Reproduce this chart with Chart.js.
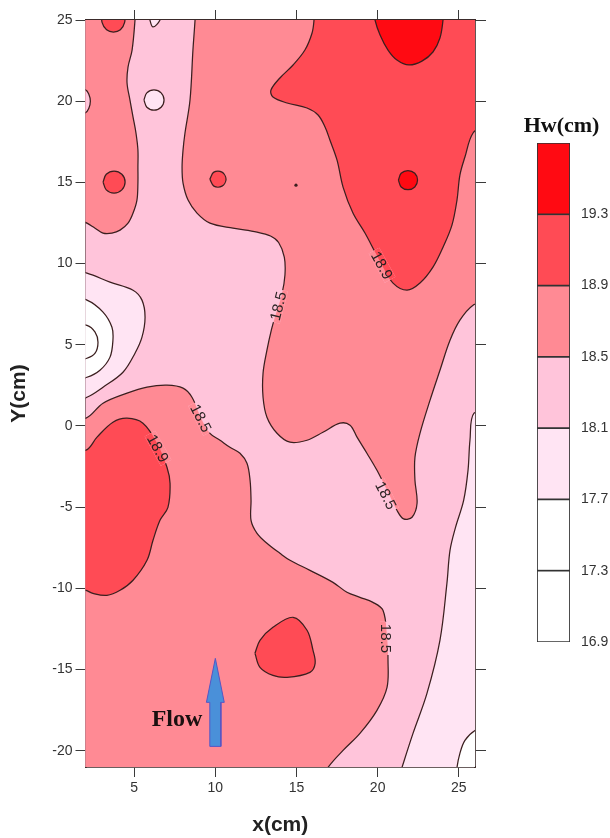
<!DOCTYPE html>
<html><head><meta charset="utf-8">
<script src="https://cdn.jsdelivr.net/npm/chart.js@4.4.1/dist/chart.umd.min.js"></script>
<style>
html,body{margin:0;padding:0;background:#fff;}
#wrap{position:relative;width:610px;height:838px;overflow:hidden;}
#main{position:absolute;left:0;top:0;}
#cb{position:absolute;left:510px;top:90px;}
</style></head>
<body><div id="wrap">
<canvas id="main" width="500" height="838"></canvas>
<canvas id="cb" width="100" height="570"></canvas>
</div>
<script>
// ---------------- DATA ----------------
const xTicks = [5, 10, 15, 20, 25];
const yTicks = [-20, -15, -10, -5, 0, 5, 10, 15, 20, 25];
const levels = [16.9, 17.3, 17.7, 18.1, 18.5, 18.9, 19.3, 19.7];
const levelLabels = [16.9, 17.3, 17.7, 18.1, 18.5, 18.9, 19.3];
const bandColors = ['#ffffff', '#ffffff', '#ffe4f3', '#ffc4da', '#ff8a94', '#ff4b55', '#ff0a12'];

// contour regions, [x(cm), y(cm)] boundary points
const base = [[1,26],[27,26],[27,-22],[1,-22],[1,26]];
const medTopLeft = [[1,26],[5.07,25.8],[5.05,25],[4.87,23.15],[4.62,22.1],[4.56,21.12],[4.74,20.07],[4.93,19.02],[5.11,18.04],[5.23,16.99],[5.23,15.94],[5.23,14.96],[5.17,13.91],[4.93,13.11],[4.62,12.49],[4.13,12.06],[3.63,11.88],[3.08,11.88],[2.59,12.18],[2.09,12.49],[1.2,13.0],[1,26]];
const medRight = [[8.78,25.8],[8.75,25],[8.62,23.15],[8.44,20.07],[8.13,18.04],[8.01,16.99],[7.95,15.94],[8.01,14.96],[8.32,13.91],[8.87,13.11],[9.67,12.49],[11.09,12.18],[12.57,11.94],[13.4,11.7],[13.9,11.3],[14.25,10.4],[14.29,9.3],[14.1,8.1],[13.7,6.8],[13.45,5.9],[13.18,4.67],[12.94,3.25],[12.94,1.77],[13.18,0.54],[13.8,-0.45],[14.6,-1.0],[15.65,-0.88],[16.63,-0.39],[17.68,0.17],[18.3,0.05],[18.73,-0.69],[19.34,-1.68],[19.96,-2.73],[20.58,-3.96],[21.19,-5.19],[21.6,-5.72],[22.12,-5.62],[22.43,-4.76],[22.3,-3.34],[22.3,-1.93],[22.61,-0.45],[23.23,1.59],[23.84,3.43],[24.46,5.28],[25.07,6.52],[25.88,7.44],[27,7.9],[27,26],[8.78,25.8]];
const medLowLeft = [[1,0.6],[2.03,0.48],[3.08,1.4],[4.56,2.02],[5.79,2.39],[7.02,2.51],[8.01,2.33],[8.56,1.77],[9.12,0.48],[9.67,-0.45],[10.29,-0.88],[10.9,-1.31],[11.52,-1.68],[11.95,-2.3],[12.14,-3.34],[12.2,-4.58],[12.2,-5.81],[12.57,-6.61],[13.18,-7.22],[13.98,-7.84],[14.6,-8.27],[15.83,-8.89],[17.25,-9.63],[18.11,-10.24],[18.91,-10.55],[19.71,-10.86],[20.33,-11.35],[20.58,-13.01],[20.64,-14.43],[20.58,-16.1],[19.96,-17.51],[18.91,-18.93],[17.87,-19.98],[16.94,-21.03],[16.4,-22],[1,-22],[1,0.6]];
const darkTopRight = [[16.1,25.8],[16.08,25],[15.96,24.2],[15.52,23.15],[14.79,22.23],[13.98,21.43],[13.43,20.69],[13.55,20.26],[14.42,19.89],[15.65,19.58],[16.33,19.15],[16.76,18.41],[17.06,17.61],[17.5,16.37],[17.87,14.71],[18.48,13.11],[19.22,11.88],[19.84,10.71],[20.27,9.9],[20.95,8.8],[21.81,8.36],[22.61,8.8],[23.41,9.78],[24.03,11.01],[24.58,12.37],[24.89,13.91],[25.07,15.45],[25.38,16.56],[25.88,18.04],[27,19],[27,26],[16.1,25.8]];
const darkLowLeft = [[1,-1.2],[2.03,-1.49],[2.71,-0.69],[3.69,0.23],[4.56,0.48],[5.54,0.17],[6.41,-1.06],[7.02,-2.54],[7.21,-3.53],[7.08,-5.01],[6.59,-5.81],[6.16,-7.04],[5.79,-8.27],[4.93,-9.5],[4.13,-10.12],[3.32,-10.43],[2.46,-10.31],[2.03,-10.12],[1,-9.9],[1,-1.2]];
const darkSpotLow = [[12.44,-14.0],[12.75,-13.2],[13.55,-12.4],[14.79,-11.78],[15.65,-12.58],[16.02,-13.82],[16.15,-14.62],[15.83,-15.17],[14.42,-15.48],[13.55,-15.36],[12.75,-14.86],[12.44,-14.0]];
const darkSpot4 = [[3.08,15.02],[3.28,15.5],[3.76,15.7],[4.24,15.5],[4.44,15.02],[4.24,14.54],[3.76,14.34],[3.28,14.54],[3.08,15.02]];
const darkTopSpot4 = [[3.0,25.6],[3.02,24.85],[3.3,24.4],[3.72,24.26],[4.15,24.4],[4.41,24.85],[4.43,25.6]];
const darkSpot10 = [[9.66,15.2],[9.91,15.63],[10.41,15.63],[10.66,15.2],[10.41,14.77],[9.91,14.77],[9.66,15.2]];
const brightTop = [[19.8,25.6],[19.84,25],[20.15,24.08],[20.64,23.15],[21.19,22.54],[21.93,22.23],[22.73,22.47],[23.41,23.03],[23.84,23.89],[24.03,25],[24.05,25.6]];
const brightSpot22 = [[21.28,15.14],[21.45,15.56],[21.87,15.73],[22.29,15.56],[22.46,15.14],[22.29,14.72],[21.87,14.55],[21.45,14.72],[21.28,15.14]];
const lightRight = [[27,0.6],[25.94,0.79],[25.69,-0.88],[25.57,-2.73],[25.3,-4.58],[24.8,-6.24],[24.46,-7.66],[24.27,-9.69],[23.84,-13.2],[23.04,-16.47],[22.18,-18.93],[21.5,-21.03],[21.2,-22],[27,-22],[27,0.6]];
const whiteCorner = [[27,-18.4],[26.0,-18.75],[25.38,-19.36],[25.07,-20.16],[24.89,-21.03],[24.8,-22],[27,-22],[27,-18.4]];
const ringOuter = [[1,9.6],[2.09,9.41],[3.51,8.86],[4.93,8.36],[5.48,7.75],[5.67,6.7],[5.48,5.47],[5.05,4.48],[4.31,3.31],[3.08,2.39],[2.09,1.77],[1,1.5],[1,9.6]];
const ringMid = [[1,7.9],[2.09,7.75],[3.08,7.01],[3.63,6.08],[3.69,5.28],[3.51,4.24],[2.89,3.43],[2.09,3.0],[1,2.8],[1,7.9]];
const ringInner = [[1,6.3],[2.09,6.2],[2.59,5.78],[2.77,5.16],[2.59,4.48],[2.09,4.17],[1,4.0],[1,6.3]];
const whiteSpot6 = [[5.6,20.07],[5.78,20.51],[6.22,20.69],[6.66,20.51],[6.84,20.07],[6.66,19.63],[6.22,19.45],[5.78,19.63],[5.6,20.07]];
const topNotch = [[5.9,25.6],[5.97,25],[6.16,24.57],[6.59,25],[6.65,25.6]];
const leftBump = [[1.5,20.75],[2.0,20.7],[2.2,20.45],[2.3,20.0],[2.2,19.55],[2.0,19.3],[1.5,19.25],[1.5,20.75]];
const tinyDot = [[14.97,14.83]];

// regions in drawing order with their band index
const regions = [
  [base, 3], [medTopLeft, 4], [medRight, 4], [medLowLeft, 4],
  [darkTopRight, 5], [darkLowLeft, 5], [darkSpotLow, 5], [darkSpot4, 5], [darkTopSpot4, 5], [darkSpot10, 5],
  [brightTop, 6], [brightSpot22, 6],
  [lightRight, 2], [whiteCorner, 1], [ringOuter, 2], [ringMid, 1], [ringInner, 0],
  [whiteSpot6, 2], [topNotch, 2], [leftBump, 3]
];

// contour labels
const labelText  = ['18.5', '18.9', '18.5', '18.9', '18.5', '18.5'];
const labelX     = [13.86, 20.27, 9.12, 6.47, 20.52, 20.52];
const labelY     = [7.38, 9.9, 0.48, -1.37, -4.27, -13.08];
const labelAngle = [-76, 61, 63, 61, 63, 90];

// flow arrow (x, y in cm)
const arrowPts = [[10,-14.31],[10.55,-17.02],[10.34,-17.02],[10.34,-19.73],[9.66,-19.73],[9.66,-17.02],[9.45,-17.02],[10,-14.31]];
const flowText = 'Flow';
const flowPos = [9.2, -18.5];
const cbTitle = 'Hw(cm)';

// ---------------- CHART ----------------
const toXY = pts => pts.map(([x, y]) => ({x, y}));
const lineCol = '#3b1f1f';
const datasets = [];
regions.forEach(([pts, band], i) => {
  const isBase = i === 0;
  datasets.push({
    data: toXY(pts), showLine: true, fill: 'shape',
    backgroundColor: bandColors[band],
    borderColor: lineCol, borderWidth: isBase ? 0 : 1.25,
    tension: isBase ? 0 : 0.35, pointRadius: 0, clip: 0, region: true
  });
});
datasets.push({ data: toXY(tinyDot), showLine: false, pointRadius: 1.6, backgroundColor: lineCol, borderWidth: 0, clip: 0 });
datasets.push({ data: toXY(arrowPts), showLine: true, fill: 'shape', backgroundColor: '#4a90d9', borderColor: '#5656c4', borderWidth: 1, tension: 0, pointRadius: 0, clip: 0 });
const N = datasets.length;
datasets.forEach((d, i) => { d.order = N - i; });

const contourLabels = {
  id: 'contourLabels',
  afterDatasetsDraw(chart) {
    const {ctx} = chart;
    const xs = chart.scales.x, ys = chart.scales.y;
    const metas = chart.getSortedVisibleDatasetMetas().slice().reverse()
      .filter(m => chart.data.datasets[m.index].region);
    ctx.save();
    ctx.font = '15px "Liberation Sans", Arial, sans-serif';
    for (let i = 0; i < labelText.length; i++) {
      const px = xs.getPixelForValue(labelX[i]), py = ys.getPixelForValue(labelY[i]);
      const a = labelAngle[i] * Math.PI / 180;
      const w = ctx.measureText(labelText[i]).width + 4, h = 12;
      ctx.save();
      ctx.translate(px, py); ctx.rotate(a);
      ctx.beginPath(); ctx.rect(-w / 2, -h / 2, w, h);
      ctx.setTransform(1, 0, 0, 1, 0, 0);
      ctx.clip();
      metas.forEach(m => {
        ctx.beginPath();
        m.dataset.path(ctx);
        ctx.closePath();
        ctx.fillStyle = chart.data.datasets[m.index].backgroundColor;
        ctx.fill();
      });
      ctx.restore();
      ctx.save();
      ctx.translate(px, py); ctx.rotate(a);
      ctx.fillStyle = '#2a2222';
      ctx.textAlign = 'center'; ctx.textBaseline = 'middle';
      ctx.fillText(labelText[i], 0, 1);
      ctx.restore();
    }
    // flow label
    ctx.font = 'bold 24px "Liberation Serif", "Times New Roman", serif';
    ctx.fillStyle = '#1a1010';
    ctx.textAlign = 'right'; ctx.textBaseline = 'alphabetic';
    ctx.fillText(flowText, xs.getPixelForValue(flowPos[0]), ys.getPixelForValue(flowPos[1]));
    ctx.restore();
  }
};

const tickFont = {family: '"Liberation Sans", Arial, sans-serif', size: 14};
const titleFont = {family: '"Liberation Sans", Arial, sans-serif', size: 21, weight: 'bold'};
const frame = {display: true, color: '#3a2a2a', width: 1.8};
const gridOpt = len => ({drawOnChartArea: false, drawTicks: true, tickLength: len, color: '#3a3a3a', tickColor: '#3a3a3a', lineWidth: 1});

new Chart(document.getElementById('main'), {
  type: 'scatter',
  data: {datasets},
  options: {
    responsive: false, animation: false, devicePixelRatio: 1, events: [],
    layout: {padding: 0},
    elements: {line: {capBezierPoints: false}, point: {radius: 0, hoverRadius: 0}},
    plugins: {legend: {display: false}, tooltip: {enabled: false}},
    scales: {
      x: {
        type: 'linear', position: 'bottom', min: 2, max: 26,
        afterBuildTicks: s => { s.ticks = xTicks.map(v => ({value: v})); },
        afterFit: s => { s.height = 71; },
        ticks: {font: tickFont, color: '#333', padding: 3, callback: v => String(v)},
        grid: gridOpt(10), border: frame,
        title: {display: true, text: 'x(cm)', font: titleFont, color: '#222', padding: 0}
      },
      x2: {
        type: 'linear', position: 'top', min: 2, max: 26,
        afterBuildTicks: s => { s.ticks = xTicks.map(v => ({value: v})); },
        afterFit: s => { s.height = 20; },
        ticks: {display: false}, grid: gridOpt(10), border: frame
      },
      y: {
        type: 'linear', position: 'left', min: -21, max: 25,
        afterBuildTicks: s => { s.ticks = yTicks.map(v => ({value: v})); },
        afterFit: s => { s.width = 85.5; },
        ticks: {font: tickFont, color: '#333', padding: 3, callback: v => String(v)},
        grid: gridOpt(10), border: frame,
        title: {display: true, text: 'Y(cm)', font: titleFont, color: '#222', padding: {top: 7, bottom: 0}}
      },
      y2: {
        type: 'linear', position: 'right', min: -21, max: 25,
        afterBuildTicks: s => { s.ticks = yTicks.map(v => ({value: v})); },
        afterFit: s => { s.width = 25; },
        ticks: {display: false}, grid: gridOpt(11), border: frame
      }
    }
  },
  plugins: [contourLabels]
});

// ---------------- COLOR BAR ----------------
const cbTitlePlugin = {
  id: 'cbTitle',
  afterDraw(chart) {
    const {ctx, chartArea} = chart;
    ctx.save();
    ctx.font = 'bold 22px "Liberation Serif", "Times New Roman", serif';
    ctx.fillStyle = '#111';
    ctx.textAlign = 'center'; ctx.textBaseline = 'alphabetic';
    ctx.fillText(cbTitle, (chartArea.left + chartArea.right) / 2 + 8, chartArea.top - 11);
    ctx.restore();
  }
};
const cbDatasets = bandColors.map((c, i) => ({
  data: [[levels[i], levels[i + 1]]],
  backgroundColor: c, borderColor: '#333', borderWidth: 1.2, borderSkipped: false,
  grouped: false, barPercentage: 1, categoryPercentage: 1
}));
new Chart(document.getElementById('cb'), {
  type: 'bar',
  data: {labels: ['Hw'], datasets: cbDatasets},
  options: {
    responsive: false, animation: false, devicePixelRatio: 1, events: [],
    layout: {padding: {left: 27, top: 53, right: 0, bottom: 18}},
    plugins: {legend: {display: false}, tooltip: {enabled: false}},
    scales: {
      x: {type: 'category', display: false},
      y: {
        type: 'linear', position: 'right', min: 16.9, max: 19.7,
        afterBuildTicks: s => { s.ticks = levelLabels.map(v => ({value: v})); },
        afterFit: s => { s.width = 40; },
        ticks: {font: tickFont, color: '#333', padding: 3, callback: v => v.toFixed(1)},
        grid: {display: false}, border: {display: false}
      }
    }
  },
  plugins: [cbTitlePlugin]
});
</script>
</body></html>
